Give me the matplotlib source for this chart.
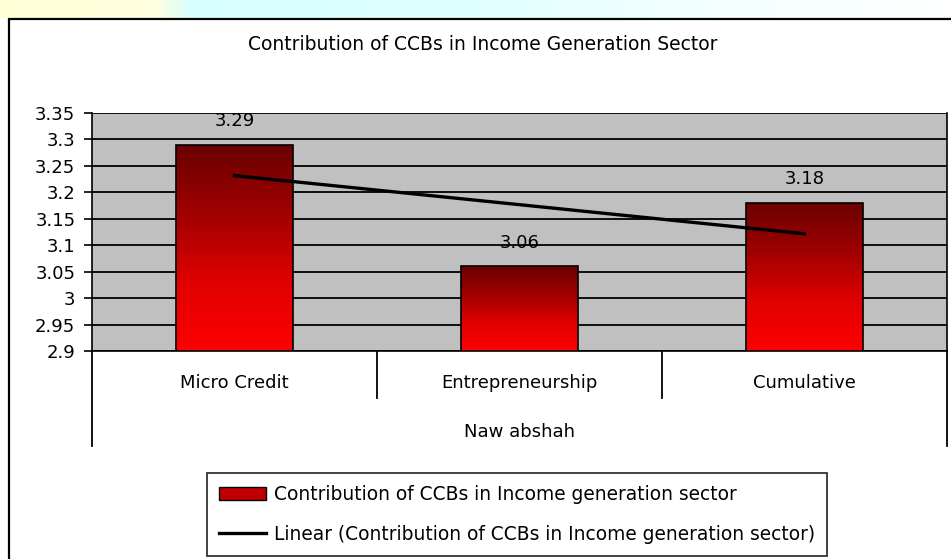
import numpy as np
import matplotlib
matplotlib.use("Agg")
import matplotlib.pyplot as plt
from matplotlib.colors import LinearSegmentedColormap
from matplotlib.patches import Rectangle
from matplotlib.lines import Line2D

# data
categories = ["Micro Credit", "Entrepreneurship", "Cumulative"]
values = [3.29, 3.06, 3.18]
group_label = "Naw abshah"
title = "Contribution of CCBs in Income Generation Sector"
series_name = "Contribution of CCBs in Income generation sector"
trend_name = "Linear (Contribution of CCBs in Income generation sector)"
yticks = [2.9, 2.95, 3.0, 3.05, 3.1, 3.15, 3.2, 3.25, 3.3, 3.35]

W, H = 951, 559
fig = plt.figure(figsize=(W / 100, H / 100), dpi=100)

# top strip (page background above the chart)
strip = fig.add_axes([0, 1 - 19 / H, 1, 19 / H])
strip_cmap = LinearSegmentedColormap.from_list(
    "strip", [(0, "#FFFFD8"), (0.16, "#FFFFE0"), (0.2, "#D8FFFF"),
              (0.5, "#E0FFFF"), (0.75, "#F4FFFF"), (1, "#FFFFFF")])
strip.imshow(np.linspace(0, 1, 200)[None, :], aspect="auto", cmap=strip_cmap,
             extent=[0, 1, 0, 1])
strip.axis("off")

# chart frame
fig.patches.append(Rectangle((9 / W, -0.05), 1.1, 1.05 - 19 / H, transform=fig.transFigure,
                             fill=False, edgecolor="black", lw=1.6))

fig.text(483 / W, 1 - 44 / H, title, ha="center", va="center", fontsize=13.5)

ax = fig.add_axes([92 / W, 1 - 351 / H, 855 / W, 238 / H])
ax.set_facecolor("#C0C0C0")
x = np.arange(len(categories))
bars = ax.bar(x, values, width=0.41, facecolor="none", edgecolor="black", lw=1.2, zorder=3)

cmap = LinearSegmentedColormap.from_list("bar", ["#FF0000", "#E00000", "#A00000", "#6A0000"])
grad = np.linspace(0, 1, 256)[:, None]
for b in bars:
    im = ax.imshow(grad, cmap=cmap, origin="lower", aspect="auto", zorder=2.5,
                   extent=[b.get_x(), b.get_x() + b.get_width(), 2.9, b.get_height()])
    im.set_clip_path(b)

for xi, v in zip(x, values):
    ax.annotate(f"{v:.2f}", (xi, v), xytext=(0, 17), textcoords="offset points",
                ha="center", va="center", fontsize=13)

# linear trend line
k, c = np.polyfit(x, values, 1)
ax.plot(x[[0, -1]], k * x[[0, -1]] + c, color="black", lw=2.4, zorder=4)

ax.set_xlim(-0.5, 2.5)
ax.set_ylim(2.9, 3.35)
ax.set_yticks(yticks)
ax.set_yticklabels([f"{t:g}" for t in yticks])
ax.tick_params(axis="y", direction="out", length=6, width=1.2, labelsize=13, pad=6)
ax.set_xticks([])
ax.yaxis.grid(True, color="black", lw=1.3)
ax.set_axisbelow(True)
for s in ax.spines.values():
    s.set_color("black")
    s.set_linewidth(1.2)
ax.spines["top"].set_visible(False)

# category axis
tr = ax.get_xaxis_transform()
for xi, name in zip(x, categories):
    ax.text(xi, -0.134, name, transform=tr, ha="center", va="center", fontsize=13)
for xs in [0.5, 1.5]:
    ax.add_line(Line2D([xs, xs], [0, -0.197], transform=tr, color="black", lw=1.3, clip_on=False))
for xs in [-0.5, 2.5]:
    ax.add_line(Line2D([xs, xs], [0, -0.399], transform=tr, color="black", lw=1.3, clip_on=False))
ax.text(1, -0.340, group_label, transform=tr, ha="center", va="center", fontsize=13)

handles = [Rectangle((0, 0), 1, 1, facecolor="#C00000", edgecolor="black", lw=1),
           Line2D([], [], color="black", lw=2.4)]
leg = fig.legend(handles, [series_name, trend_name], loc="upper left",
                 bbox_to_anchor=(207 / W, 1 - 473 / H), borderaxespad=0, fontsize=13.4,
                 frameon=True, fancybox=False, edgecolor="black", handlelength=2.5,
                 handletextpad=0.45, labelspacing=1.1, borderpad=0.65)
leg.get_frame().set_linewidth(1.3)

fig.savefig("out.png", dpi=100)
